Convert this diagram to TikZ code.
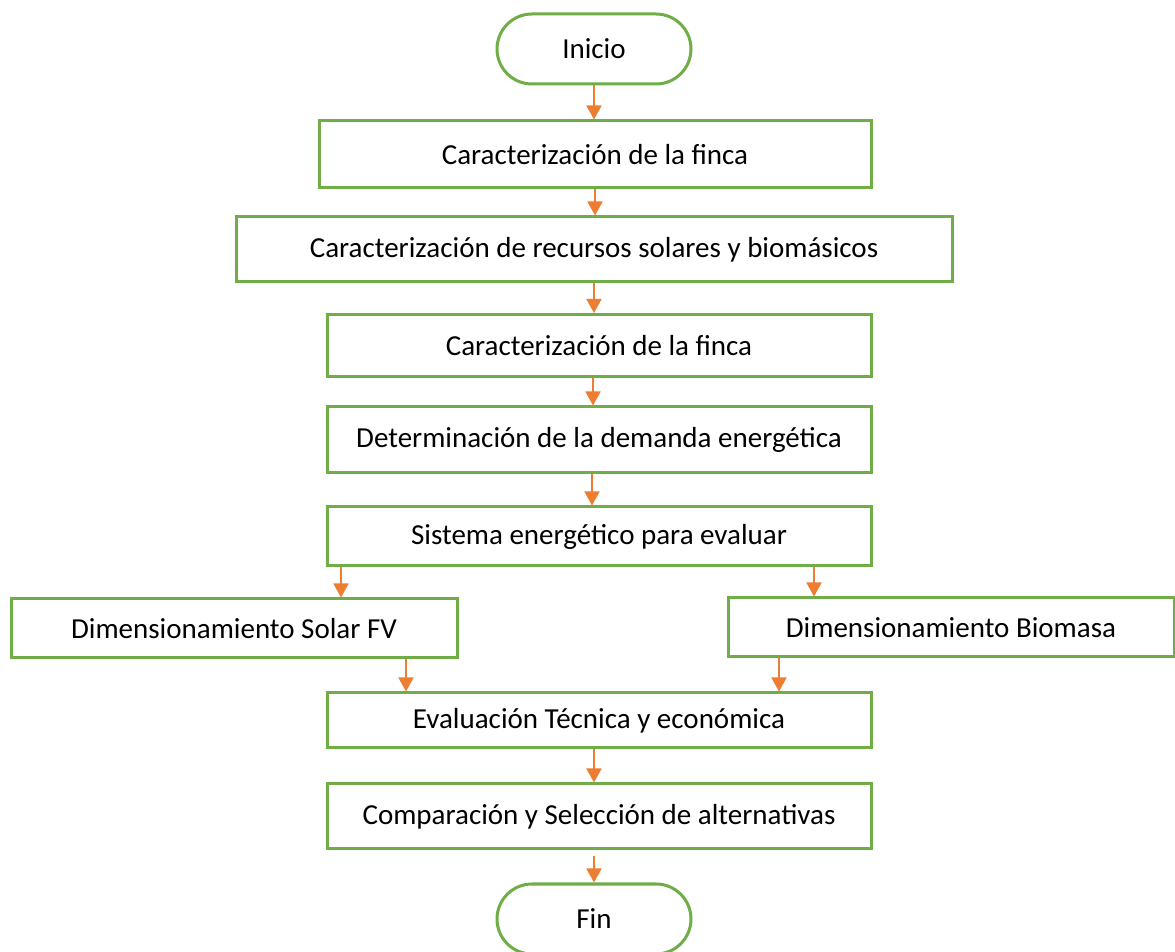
\documentclass[tikz,border=0pt]{standalone}
\usepackage{fontspec}
\setmainfont{Carlito}
\usetikzlibrary{shapes,arrows,arrows.meta,positioning}
\definecolor{boxgreen}{HTML}{70AD47}
\definecolor{arrorange}{HTML}{ED7D31}

\begin{document}
\begin{tikzpicture}[x = 0.5pt, y = -0.5pt, font = \fontsize{14.5}{17}\selectfont,
  box/.style = {draw = boxgreen, line width = 1.5pt, fill = white, minimum height = 31pt, inner sep = 0pt},
  term/.style = {box, rounded corners = 17.5pt, minimum width = 97pt, minimum height = 35pt},
  flow/.style = {-{Triangle[length = 7pt, width = 7.5pt]}, draw = arrorange, fill = arrorange, line width = 0.9pt}]
\useasboundingbox (0,0) rectangle (1175,952);

\node[term] (ini) at (594,49) {Inicio};
\node[box, minimum width = 276pt, minimum height = 33.5pt] (fin1) at (595,154.5) {Caracterización de la finca};
\node[box, minimum width = 358pt, minimum height = 32.5pt] (rec) at (594,249.5) {Caracterización de recursos solares y biomásicos};
\node[box, minimum width = 272pt] (fin2) at (599,345.5) {Caracterización de la finca};
\node[box, minimum width = 272pt, minimum height = 33pt] (dem) at (599,440) {Determinación de la demanda energética};
\node[box, minimum width = 272pt, minimum height = 29.5pt] (sis) at (599,536.5) {Sistema energético para evaluar};
\node[box, minimum width = 223pt, minimum height = 29.5pt] (sol) at (234,628.5) {Dimensionamiento Solar FV};
\node[box, minimum width = 223pt, minimum height = 29.5pt] (bio) at (951,627.5) {Dimensionamiento Biomasa};
\node[box, minimum width = 272pt, minimum height = 27.5pt] (eva) at (599,720.5) {Evaluación Técnica y económica};
\node[box, minimum width = 272pt, minimum height = 32.5pt] (cmp) at (599,816.5) {Comparación y Selección de alternativas};
\node[term] (fin) at (594,919) {Fin};

\draw[flow] (ini.south) -- (ini.south |- fin1.north);
\draw[flow] (fin1.south) -- (fin1.south |- rec.north);
\draw[flow] (rec.south) -- (rec.south |- fin2.north);
\draw[flow] ([xshift = -3pt]fin2.south) -- ([xshift = -3pt]fin2.south |- dem.north);
\draw[flow] ([xshift = -3.5pt]dem.south) -- ([xshift = -3.5pt]dem.south |- sis.north);

% split into the two systems
\draw[flow] ([xshift = -129pt]sis.south) -- ([xshift = -129pt]sis.south |- sol.north);
\draw[flow] ([xshift = 107.5pt]sis.south) -- ([xshift = 107.5pt]sis.south |- bio.north);
\draw[flow] ([xshift = 86pt]sol.south) -- ([xshift = 86pt]sol.south |- eva.north);
\draw[flow] ([xshift = -86pt]bio.south) -- ([xshift = -86pt]bio.south |- eva.north);

\draw[flow] ([xshift = -2.5pt]eva.south) -- ([xshift = -2.5pt]eva.south |- cmp.north);
\draw[flow, shorten <= 3pt] (cmp.south -| fin.north) -- (fin.north);
\end{tikzpicture}
\end{document}
